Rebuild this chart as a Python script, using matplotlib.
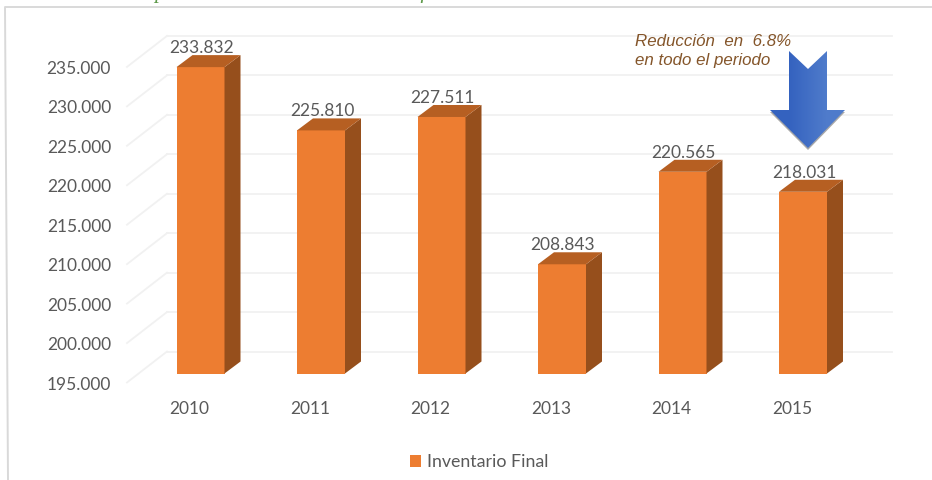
#!/usr/bin/env python3
"""
inventario final chart, fake 3d bars
"""

import numpy as np
import matplotlib
matplotlib.use('Agg')
import matplotlib.pyplot as plt
from matplotlib.patches import Polygon

years = ['2010', '2011', '2012', '2013', '2014', '2015']
inventario = [233832, 225810, 227511, 208843, 220565, 218031]
y_ticks = [195000, 200000, 205000, 210000, 215000, 220000, 225000, 230000, 235000]
series_name = 'Inventario Final'
note_lines = ['Reducción  en  6.8%', 'en todo el periodo']
cut_title = 'Comportamiento de los inventarios finales'

front_color = '#ED7D31'
side_color = '#964F1C'
top_color = '#B65F22'
grid_color = '#F1F1F1'
text_color = '#595959'

# picture geometry in pixels
PX_PER_CAT = 120.5
PX_PER_UNIT = 0.00789
X0_PX = 200.5
FLOOR_PX = 373.5
W, H = 932, 480


def fmt(v):
    return f'{v:,}'.replace(',', '.')


fig = plt.figure(figsize=(W / 100, H / 100), dpi=100)
plt.rcParams['font.family'] = ['Lato', 'DejaVu Sans']

ax = fig.add_axes([0, 0, 1, 1])
ax.set_xlim(-X0_PX / PX_PER_CAT, (W - X0_PX) / PX_PER_CAT)
ax.set_ylim(195000 - (H - FLOOR_PX) / PX_PER_UNIT, 195000 + FLOOR_PX / PX_PER_UNIT)
ax.axis('off')

bar_w = 48 / PX_PER_CAT
dx = 16 / PX_PER_CAT
dy = 12 / PX_PER_UNIT

# back wall and the diagonals on the left side
wall_left = (167 - X0_PX) / PX_PER_CAT
wall_right = (892 - X0_PX) / PX_PER_CAT
diag_left = (127 - X0_PX) / PX_PER_CAT
wall_dy = 22 / PX_PER_UNIT
diag_dy = 9 / PX_PER_UNIT
for t in y_ticks:
    ax.plot([wall_left, wall_right], [t + wall_dy, t + wall_dy], color=grid_color, lw=1.3, zorder=1)
    ax.plot([diag_left, wall_left], [t - diag_dy, t + wall_dy], color=grid_color, lw=1.3, zorder=1)
    ax.text((111 - X0_PX) / PX_PER_CAT, t - 11 / PX_PER_UNIT, fmt(t), ha='right', va='center',
            color=text_color, fontsize=12.5)

x = np.arange(len(years))
base = y_ticks[0]
bars = ax.bar(x, np.array(inventario) - base, bottom=base, width=bar_w, color=front_color,
              label=series_name, zorder=3)

for xi, v, year in zip(x, inventario, years):
    l, r = xi - bar_w / 2, xi + bar_w / 2
    ax.add_patch(Polygon([(r, base), (r + dx, base + dy), (r + dx, v + dy), (r, v)],
                         color=side_color, lw=0, zorder=3))
    ax.add_patch(Polygon([(l, v), (l + dx, v + dy), (r + dx, v + dy), (r, v)],
                         color=top_color, lw=0, zorder=3))
    ax.text(xi + 1 / PX_PER_CAT, v + 19 / PX_PER_UNIT, fmt(v), ha='center', va='center',
            color=text_color, fontsize=12.5, zorder=4)
    ax.text(xi - 11 / PX_PER_CAT, base - 36 / PX_PER_UNIT, year, ha='center', va='center',
            color=text_color, fontsize=12.5)

ax.legend(handles=[bars[0]], labels=[series_name], loc='center', bbox_to_anchor=(479 / W, 1 - 462 / H),
          frameon=False, fontsize=12.8, labelcolor=text_color, handlelength=0.62, handleheight=0.62,
          handletextpad=0.35)

# overlay in pixel coordinates for the frame, the note and the arrow
over = fig.add_axes([0, 0, 1, 1], facecolor='none')
over.set_xlim(0, W)
over.set_ylim(H, 0)
over.axis('off')

over.plot([W, 5, 8], [7, 7, H], color='#D9D9D9', lw=1.4, zorder=2)
# the reference only shows the bottom edge of this line
over.text(115, -2, cut_title, family='Liberation Serif', style='italic', fontsize=15.3,
          color='#5E9A4A', va='baseline', ha='left')

for i, line in enumerate(note_lines):
    over.text(635, 41 + 20 * i, line, family='Liberation Sans', style='italic', fontsize=12.2,
              color='#84552A', ha='left', va='center', zorder=6)

arrow = [(789, 51), (808, 69), (827, 51), (827, 110), (845, 110), (808, 148), (770, 110), (789, 110)]
shadow = Polygon([(px, py + 2) for px, py in arrow], color='#A8A8A8', lw=0, zorder=4)
over.add_patch(shadow)
ramp = np.array([[0.0, 1.0]])
cmap = matplotlib.colors.LinearSegmentedColormap.from_list('arrow', ['#3462BF', '#4F7BCB'])
img = over.imshow(ramp, extent=(770, 845, 148, 51), cmap=cmap, aspect='auto', zorder=5,
                  interpolation='bilinear')
clip = Polygon(arrow, transform=over.transData, facecolor='none', edgecolor='none')
over.add_patch(clip)
img.set_clip_path(clip)
over.set_xlim(0, W)
over.set_ylim(H, 0)

plt.savefig('out.png', dpi=100)
plt.close()
